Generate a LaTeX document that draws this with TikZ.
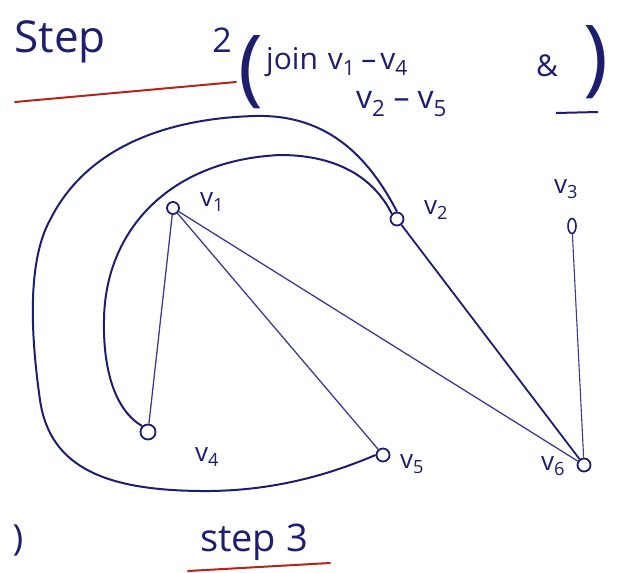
\documentclass[tikz,border=0pt]{standalone}
\usepackage{fontspec}
\setmainfont{Open Sans}
\usetikzlibrary{shapes.geometric}
\definecolor{ink}{HTML}{1E1E6E}
\definecolor{inkl}{HTML}{3C3C8E}
\definecolor{redink}{HTML}{B5231C}
\newcommand{\vv}[1]{v\textsubscript{#1}}
\begin{document}
\begin{tikzpicture}[x=1pt,y=-1pt,
  vert/.style={circle,draw=ink,line width=1.8pt,inner sep=0pt,minimum size=12pt},
  lbl/.style={text=ink,font=\fontsize{26}{26}\selectfont,inner sep=0pt},
  txt/.style={text=ink,inner sep=0pt},
  edge/.style={draw=inkl,line width=1.3pt},
  edgeb/.style={draw=ink,line width=1.8pt},
  curve/.style={draw=ink,line width=2pt},
  redline/.style={draw=redink,line width=2pt,line cap=round}]
\useasboundingbox (0,0) rectangle (619,573);

% title
\node[txt,font=\fontsize{44}{44}\selectfont] (step) at (60,42) {Step};
\node[txt,font=\fontsize{34}{34}\selectfont] (two) at (222,40) {2};
\node[txt,font=\fontsize{84}{84}\selectfont] (lp) at (251,72) {(};
\node[txt,font=\fontsize{30}{30}\selectfont,anchor=west] (l1) at (266,62) {join\hspace{10pt}\vv{1}\hspace{6pt}–\hspace{4pt}\vv{4}};
\node[txt,font=\fontsize{30}{30}\selectfont] (amp) at (547,66) {\&};
\node[txt,font=\fontsize{32}{32}\selectfont,anchor=west] (l2) at (356,104) {\vv{2}\hspace{8pt}–\hspace{8pt}\vv{5}};
\node[txt,font=\fontsize{84}{84}\selectfont] (rp) at (596,62) {)};
\coordinate (u1) at (556,113);
\coordinate (u2) at (598,112);
\draw[curve] (u1) -- (u2);
\coordinate (r1a) at (15,102);
\coordinate (r1b) at (236,82);
\draw[redline] (r1a) -- (r1b);

% vertices
\node[vert] (v1) at (173,208) {};
\node[vert,minimum size=13pt] (v2) at (397,219) {};
\node[ellipse,draw=ink,line width=1.6pt,inner sep=0pt,minimum width=8pt,minimum height=15pt] (v3) at (572,226) {};
\node[vert,minimum size=15pt] (v4) at (148,432) {};
\node[vert,minimum size=13pt] (v5) at (383,455) {};
\node[vert,minimum size=13pt] (v6) at (584,465) {};

% labels
\node[lbl] (l-v1) at (212,202) {\vv{1}};
\node[lbl] (l-v2) at (436,210) {\vv{2}};
\node[lbl] (l-v3) at (566,189) {\vv{3}};
\node[lbl] (l-v4) at (207,457) {\vv{4}};
\node[lbl] (l-v5) at (412,464) {\vv{5}};
\node[lbl] (l-v6) at (553,466) {\vv{6}};

% edges
\draw[edge] (v1) -- (v4);
\draw[edge] (v1) -- (v5);
\draw[edge] (v1) -- (v6);
\draw[edgeb] (v2) -- (v6);
\draw[edge,line width=1.1pt] (v3) -- (v6);

% inner curve v4 - v2
\draw[curve] (v4.north west) .. controls (115,410) and (103,370) .. (104,320)
  .. controls (105,230) and (170,160) .. (280,155)
  .. controls (340,155) and (375,180) .. (v2.north west);

% outer curve v5 - v2
\draw[curve] (v5.west) .. controls (340,470) and (280,492) .. (200,491)
  .. controls (110,490) and (50,470) .. (40,400)
  .. controls (30,330) and (28,260) .. (50,220)
  .. controls (90,140) and (180,118) .. (255,116)
  .. controls (330,114) and (370,160) .. (v2.north);

% bottom
\node[txt,font=\fontsize{36}{36}\selectfont] (bp) at (18,540) {)};
\node[txt,font=\fontsize{38}{38}\selectfont] (s3) at (254,542) {step 3};
\coordinate (r2a) at (188,571);
\coordinate (r2b) at (330,563);
\draw[redline] (r2a) -- (r2b);
\end{tikzpicture}
\end{document}
